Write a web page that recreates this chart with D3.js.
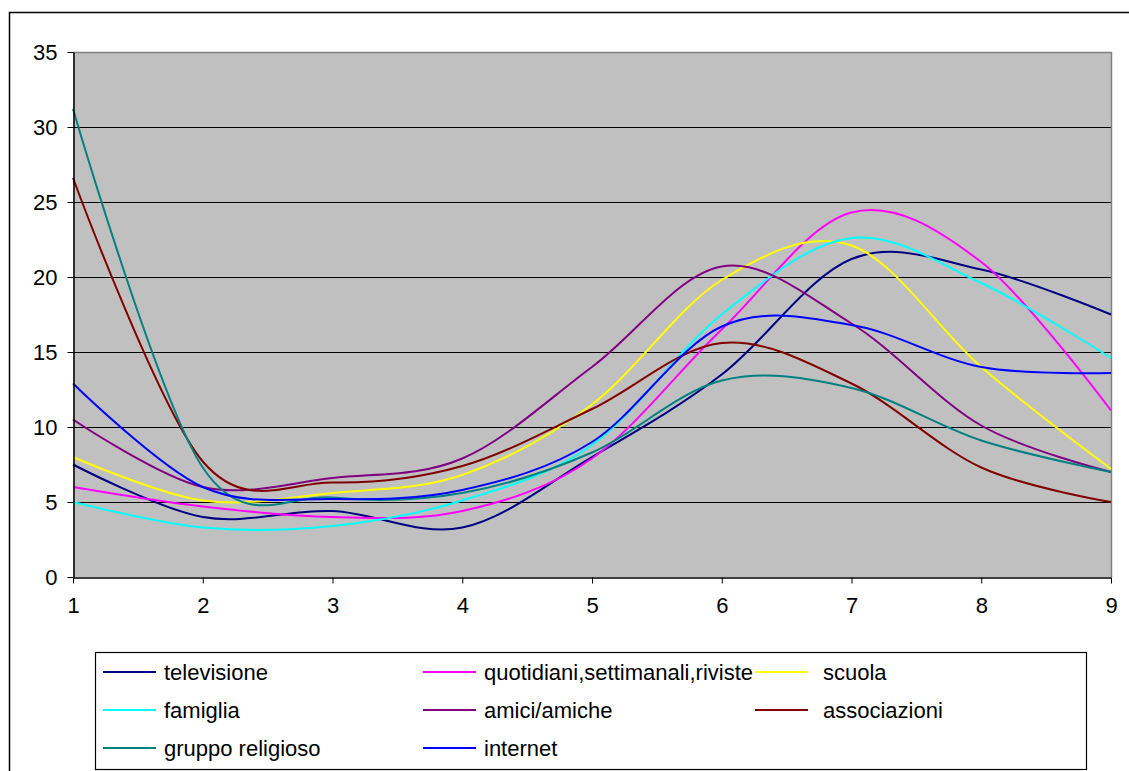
<!DOCTYPE html>
<html>
<head>
<meta charset="utf-8">
<script src="https://cdn.jsdelivr.net/npm/d3@7"></script>
<style>
  body { margin: 0; background: #fff; }
  text { font-family: "Liberation Sans", Arial, sans-serif; }
  .axis path, .axis line { stroke: #000; }
  .axis text { font-size: 22px; fill: #000; }
</style>
</head>
<body>
<script>
"use strict";

// x categories
var categories = [1, 2, 3, 4, 5, 6, 7, 8, 9];

// series values
var televisione = [7.5, 4.0, 4.4, 3.3, 8.0, 13.5, 21.2, 20.5, 17.5];
var quotidiani  = [6.0, 4.7, 4.0, 4.4, 7.9, 16.5, 24.3, 21.0, 11.1];
var scuola      = [8.0, 5.1, 5.6, 6.8, 11.5, 19.8, 22.1, 14.0, 7.2];
var famiglia    = [5.0, 3.3, 3.4, 5.1, 8.8, 17.5, 22.6, 19.6, 14.6];
var amici       = [10.5, 6.0, 6.6, 7.9, 14.0, 20.7, 16.9, 10.1, 7.0];
var associazioni = [26.6, 7.7, 6.3, 7.4, 11.2, 15.6, 12.9, 7.3, 5.0];
var religioso   = [31.2, 7.3, 5.3, 5.6, 8.3, 13.1, 12.6, 9.1, 7.0];
var internet    = [12.9, 6.0, 5.2, 5.8, 9.0, 16.7, 16.8, 14.0, 13.6];

var seriesNames = ['televisione', 'quotidiani,settimanali,riviste', 'scuola',
  'famiglia', 'amici/amiche', 'associazioni', 'gruppo religioso', 'internet'];
var yTicks = [0, 5, 10, 15, 20, 25, 30, 35];

var series = [
  {name: seriesNames[0], values: televisione, color: '#000080'},
  {name: seriesNames[1], values: quotidiani, color: '#ff00ff'},
  {name: seriesNames[2], values: scuola, color: '#ffff00'},
  {name: seriesNames[3], values: famiglia, color: '#00ffff'},
  {name: seriesNames[4], values: amici, color: '#800080'},
  {name: seriesNames[5], values: associazioni, color: '#800000'},
  {name: seriesNames[6], values: religioso, color: '#008080'},
  {name: seriesNames[7], values: internet, color: '#0000ff'}
];

var W = 1129, H = 771;
var plot = {left: 73, right: 1111, top: 52, bottom: 577};

var svg = d3.select('body').append('svg')
  .attr('width', W)
  .attr('height', H);

// outer chart frame (only top and left visible)
svg.append('path')
  .attr('d', `M9.5,${H} V12.5 H${W}`)
  .attr('fill', 'none')
  .attr('stroke', '#000')
  .attr('stroke-width', 1.5);

var x = d3.scaleLinear()
  .domain(d3.extent(categories))
  .range([plot.left, plot.right]);

var y = d3.scaleLinear()
  .domain([0, 35])
  .range([plot.bottom, plot.top]);

// plot background
svg.append('rect')
  .attr('x', plot.left)
  .attr('y', plot.top)
  .attr('width', plot.right - plot.left)
  .attr('height', plot.bottom - plot.top)
  .attr('fill', '#c0c0c0');

// gridlines
svg.append('g')
  .selectAll('line')
  .data(yTicks.filter(d => d > 0 && d < 35))
  .join('line')
  .attr('x1', plot.left)
  .attr('x2', plot.right)
  .attr('y1', d => Math.round(y(d)) + 0.5)
  .attr('y2', d => Math.round(y(d)) + 0.5)
  .attr('stroke', '#000')
  .attr('stroke-width', 1);

// gray border top and right
svg.append('path')
  .attr('d', `M${plot.left},${plot.top + 0.5} H${plot.right + 0.5} V${plot.bottom}`)
  .attr('fill', 'none')
  .attr('stroke', '#808080')
  .attr('stroke-width', 1.5);

// lines (smoothed like the original)
var line = d3.line()
  .x((d, i) => x(categories[i]))
  .y(d => y(d))
  .curve(d3.curveCardinal.tension(0));

svg.append('g')
  .selectAll('path')
  .data(series)
  .join('path')
  .attr('d', d => line(d.values))
  .attr('fill', 'none')
  .attr('stroke', d => d.color)
  .attr('stroke-width', 2);

// axes
var axisY = d3.axisLeft(y)
  .tickValues(yTicks)
  .tickSize(6)
  .tickPadding(10)
  .tickSizeOuter(0);

svg.append('g')
  .attr('class', 'axis')
  .attr('transform', `translate(${plot.left + 0.5}, 0)`)
  .call(axisY)
  .call(g => g.select('.domain').attr('stroke-width', 1.5));

var axisX = d3.axisBottom(x)
  .tickValues(categories)
  .tickFormat(d3.format('d'))
  .tickSize(6)
  .tickPadding(14)
  .tickSizeOuter(0);

svg.append('g')
  .attr('class', 'axis')
  .attr('transform', `translate(0, ${plot.bottom + 0.5})`)
  .call(axisX)
  .call(g => g.select('.domain').attr('stroke-width', 1.5));

// legend
var legend = svg.append('g');

legend.append('rect')
  .attr('x', 95.5)
  .attr('y', 652.5)
  .attr('width', 991)
  .attr('height', 117)
  .attr('fill', '#fff')
  .attr('stroke', '#000')
  .attr('stroke-width', 1.2);

var colX = [103, 423, 755],
  rowY = [672, 710, 748];

var item = legend.selectAll('g.item')
  .data(series)
  .join('g')
  .attr('class', 'item')
  .attr('transform', (d, i) => `translate(${colX[i % 3]}, ${rowY[Math.floor(i / 3)]})`);

item.append('line')
  .attr('x1', 0)
  .attr('x2', 53)
  .attr('stroke', d => d.color)
  .attr('stroke-width', 2);

item.append('text')
  .attr('x', (d, i) => i % 3 === 2 ? 68 : 61)
  .attr('dy', '0.35em')
  .style('font-size', '22px')
  .text(d => d.name);
</script>
</body>
</html>
